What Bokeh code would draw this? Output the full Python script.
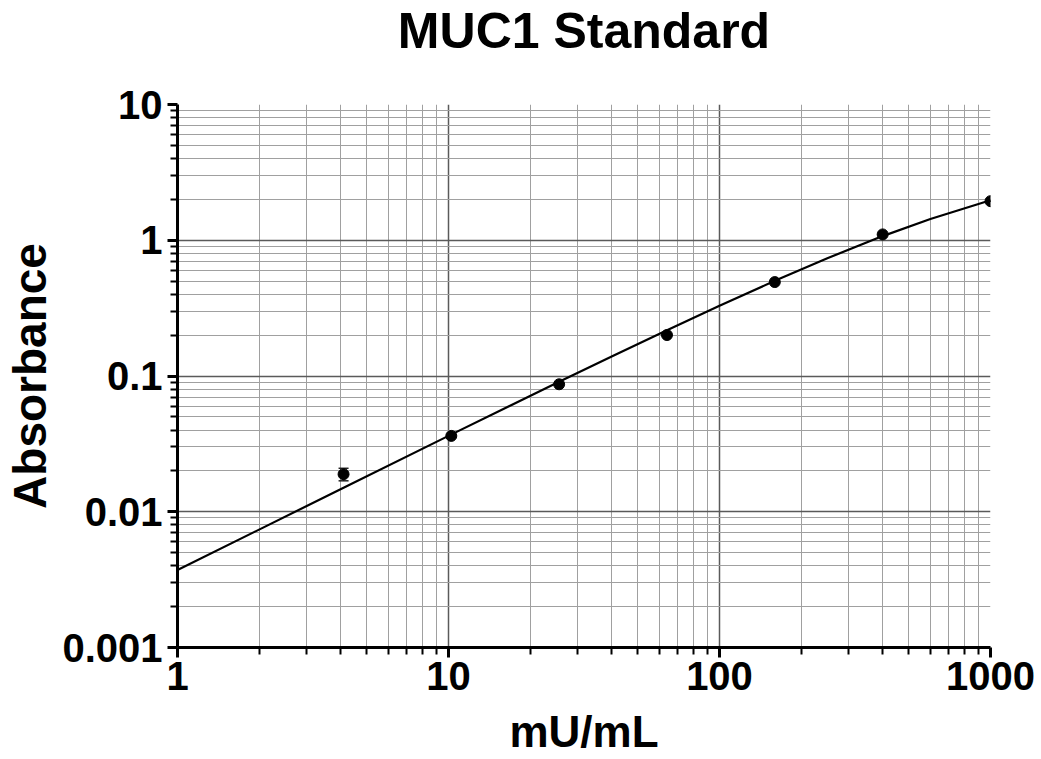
from bokeh.plotting import figure
from bokeh.models import FixedTicker, CustomJSTickFormatter, Whisker, TeeHead, ColumnDataSource, Title
from bokeh.embed import file_html
from bokeh.resources import INLINE

# measured standards
conc = [4.1, 10.24, 25.6, 64, 160, 400, 1000]
absorb = [0.0189, 0.0362, 0.0869, 0.2004, 0.492, 1.104, 1.94]
err_lo = [0.0169, 0.0362, 0.0869, 0.2004, 0.492, 1.104, 1.94]
err_hi = [0.0209, 0.0362, 0.0869, 0.2004, 0.492, 1.104, 1.94]

# fitted curve
fit_x = [1, 2, 4.1, 10, 25.6, 40, 64, 100, 160, 250, 400, 600, 1000]
fit_y = [0.00372, 0.007385, 0.01503, 0.03622, 0.0908, 0.1393, 0.2176, 0.3294,
         0.5025, 0.737, 1.073, 1.435, 1.969]

x_major = [1, 10, 100, 1000]
y_major = [0.001, 0.01, 0.1, 1, 10]

FONT = "Liberation Sans"

p = figure(width=1041, height=759, x_axis_type="log", y_axis_type="log",
           x_range=(1, 1000), y_range=(0.001, 10),
           output_backend="svg", toolbar_location=None,
           min_border_left=177, min_border_right=51,
           min_border_top=104, min_border_bottom=112,
           title="MUC1 Standard")
p.outline_line_color = None
p.background_fill_color = "white"

p.title.text_font = FONT
p.title.text_font_size = "50px"
p.title.text_font_style = "bold"
p.title.align = "center"
p.title.text_color = "black"
p.title.standoff = 0

# empty spacer between the title and the plot frame
p.add_layout(Title(text="\u00a0", text_font_size="40px", standoff=0), "above")

x_minor = [k * 10 ** d for d in range(0, 3) for k in range(2, 10)]
y_minor = [k * 10.0 ** d for d in range(-3, 1) for k in range(2, 10)]

p.xaxis.ticker = FixedTicker(ticks=x_major, minor_ticks=x_minor)
p.yaxis.ticker = FixedTicker(ticks=y_major, minor_ticks=y_minor)
fmt = CustomJSTickFormatter(code="return String(Number(tick.toPrecision(6)));")
p.xaxis.formatter = fmt
p.yaxis.formatter = fmt

for ax in (p.xaxis, p.yaxis):
    ax.axis_line_width = 3
    ax.axis_line_color = "black"
    ax.major_tick_line_width = 3
    ax.minor_tick_line_width = 2
    ax.major_tick_out = 10
    ax.major_tick_in = 0
    ax.minor_tick_out = 7
    ax.minor_tick_in = 0
    ax.major_label_text_font = FONT
    ax.major_label_text_font_style = "bold"
    ax.major_label_text_font_size = "40px"
    ax.major_label_text_color = "black"
    ax.axis_label_text_font = FONT
    ax.axis_label_text_font_style = "bold"
    ax.axis_label_text_color = "black"

p.xaxis.axis_label = "mU/mL"
p.xaxis.axis_label_text_font_size = "44px"
p.xaxis.axis_label_standoff = 14
p.xaxis.major_label_standoff = 4
p.yaxis.axis_label = "Absorbance"
p.yaxis.axis_label_text_font_size = "46px"
p.yaxis.axis_label_standoff = 3
p.yaxis.major_label_standoff = 5

for g in (p.xgrid, p.ygrid):
    g.grid_line_color = "#5a5a5a"
    g.grid_line_width = 1.5
    g.minor_grid_line_color = "#a0a0a0"
    g.minor_grid_line_width = 1

p.line(fit_x, fit_y, line_color="black", line_width=2.2)

src = ColumnDataSource(dict(x=conc, lo=err_lo, hi=err_hi))
p.add_layout(Whisker(source=src, base="x", lower="lo", upper="hi",
                     line_color="#222222", line_width=1.5,
                     upper_head=TeeHead(size=10, line_color="#222222", line_width=1.5),
                     lower_head=TeeHead(size=10, line_color="#222222", line_width=1.5)))
p.scatter(conc, absorb, size=11, color="black")

open("out.html", "w").write(file_html(p, INLINE))
